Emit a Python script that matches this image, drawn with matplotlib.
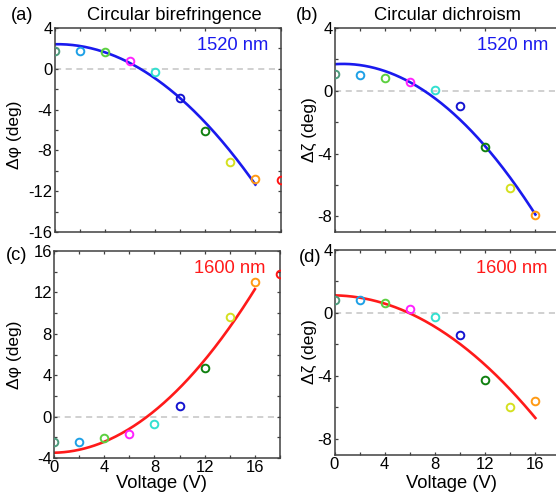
import matplotlib
matplotlib.use("Agg")
import matplotlib.pyplot as plt
import numpy as np

plt.rcParams['font.family'] = ['Liberation Sans', 'DejaVu Sans']

W, H = 556, 498

# voltages and point colours
voltage = [0, 2, 4, 6, 8, 10, 12, 14, 16, 18]
point_colors = ['#4e9a7c', '#1ea0e6', '#5cd040', '#ff22ff', '#33e0d0',
                '#1414d0', '#108010', '#d4e020', '#ff9a14', '#ff1414']

biref_1520 = [1.75, 1.75, 1.6, 0.77, -0.28, -2.9, -6.07, -9.17, -10.8, -10.9]
dichro_1520 = [1.05, 1.0, 0.83, 0.54, 0.05, -0.96, -3.6, -6.2, -7.9, -7.3]
biref_1600 = [-2.5, -2.5, -2.1, -1.7, -0.76, 1.02, 4.73, 9.65, 12.96, 13.8]
dichro_1600 = [0.84, 0.84, 0.63, 0.27, -0.29, -1.41, -4.25, -5.98, -5.62, -4.57]

# anchor values of the fitted curves (0..16 V)
fit_v = [0, 4, 8, 12, 16]
fit_biref_1520 = [2.4, 1.6, -0.8, -5.4, -11.3]
fit_dichro_1520 = [1.7, 1.25, -0.5, -3.5, -7.9]
fit_biref_1600 = [-3.5, -2.4, 0.5, 5.5, 12.3]
fit_dichro_1600 = [1.07, 0.65, -0.78, -3.5, -6.6]

x_ticks = [0, 2, 4, 6, 8, 10, 12, 14, 16, 18]
x_ticklabels = ['0', '', '4', '', '8', '', '12', '', '16', '']

blue = '#1a1aee'
red = '#ff1a1a'
spine_col = '#404040'


def box(l, t, r, b):
    # pixel box -> figure fraction
    return [l / W, 1 - b / H, (r - l) / W, (b - t) / H]


def fx(x):
    return x / W


def fy(y):
    return 1 - y / H


fig = plt.figure(figsize=(W / 100, H / 100), dpi=100)

panels = [
    dict(pos=box(54.5, 28, 280.5, 232), y=biref_1520, fit=fit_biref_1520, col=blue,
         ylim=(-16, 4), yt=np.arange(-16, 5, 2), lab='1520 nm', bottom=False),
    dict(pos=box(334.5, 28, 560.5, 232), y=dichro_1520, fit=fit_dichro_1520, col=blue,
         ylim=(-9, 4), yt=np.arange(-8, 5, 2), lab='1520 nm', bottom=False),
    dict(pos=box(54, 251, 280, 458), y=biref_1600, fit=fit_biref_1600, col=red,
         ylim=(-4, 16), yt=np.arange(-4, 17, 2), lab='1600 nm', bottom=True),
    dict(pos=box(334.5, 250, 560.5, 454.5), y=dichro_1600, fit=fit_dichro_1600, col=red,
         ylim=(-9, 4), yt=np.arange(-8, 5, 2), lab='1600 nm', bottom=True),
]

for p in panels:
    ax = fig.add_axes(p['pos'])
    ax.set_xlim(0, 18)
    ax.set_ylim(*p['ylim'])
    ax.axhline(0, color='#c4c4c4', lw=1.1, ls=(0, (4, 3)), zorder=1)

    coef = np.polyfit(fit_v, p['fit'], 2)
    xs = np.linspace(0, 16, 200)
    ax.plot(xs, np.polyval(coef, xs), color=p['col'], lw=1.9, zorder=2)

    for v, val, c in zip(voltage, p['y'], point_colors):
        ax.plot(v, val, 'o', mfc='none', mec=c, ms=5.5, mew=1.4, zorder=3)

    ax.set_xticks(x_ticks)
    if p['bottom']:
        ax.set_xticklabels(x_ticklabels)
    else:
        ax.set_xticklabels([])
    ax.set_yticks(p['yt'])
    ax.set_yticklabels([str(int(t)) if t % 4 == 0 else '' for t in p['yt']])
    ax.tick_params(direction='in', length=2.5, width=0.9, top=True, right=True,
                   labelsize=12, pad=1.5, colors='black')
    ax.tick_params(color=spine_col)
    for s in ax.spines.values():
        s.set_color(spine_col)
        s.set_linewidth(1.1)

# axis and panel texts
fs = 13.2
fig.text(fx(22), fy(15), '(a)', fontsize=fs, ha='center', va='center')
fig.text(fx(174), fy(15), 'Circular birefringence', fontsize=fs, ha='center', va='center')
fig.text(fx(307), fy(15), '(b)', fontsize=fs, ha='center', va='center')
fig.text(fx(448), fy(15), 'Circular dichroism', fontsize=fs, ha='center', va='center')
fig.text(fx(17), fy(255), '(c)', fontsize=fs, ha='center', va='center')
fig.text(fx(310), fy(257), '(d)', fontsize=fs, ha='center', va='center')

fig.text(fx(268), fy(45), '1520 nm', fontsize=fs, ha='right', va='center', color=blue)
fig.text(fx(548), fy(45), '1520 nm', fontsize=fs, ha='right', va='center', color=blue)
fig.text(fx(265), fy(268), '1600 nm', fontsize=fs, ha='right', va='center', color=red)
fig.text(fx(548), fy(268), '1600 nm', fontsize=fs, ha='right', va='center', color=red)

fig.text(fx(14), fy(135), 'Δφ (deg)', fontsize=12.5, rotation=90, ha='center', va='center')
fig.text(fx(309), fy(130), 'Δζ (deg)', fontsize=12.5, rotation=90, ha='center', va='center')
fig.text(fx(14), fy(355), 'Δφ (deg)', fontsize=12.5, rotation=90, ha='center', va='center')
fig.text(fx(309), fy(352), 'Δζ (deg)', fontsize=12.5, rotation=90, ha='center', va='center')

fig.text(fx(162), fy(483), 'Voltage (V)', fontsize=fs, ha='center', va='center')
fig.text(fx(451), fy(483), 'Voltage (V)', fontsize=fs, ha='center', va='center')

fig.savefig('out.png', dpi=100)
